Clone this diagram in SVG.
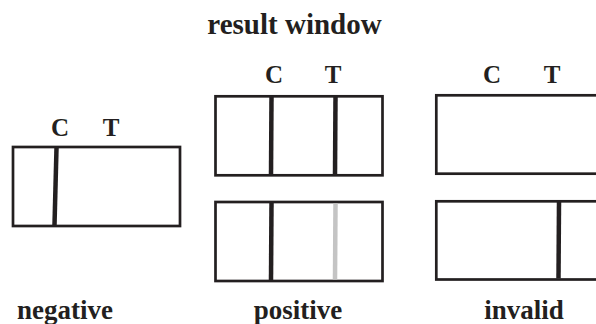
<svg xmlns="http://www.w3.org/2000/svg" width="596" height="324" viewBox="0 0 596 324">
<style>
text{font-family:"Liberation Serif","Times New Roman",serif;font-weight:bold;fill:#231f20}
.title{font-size:29px}
.lbl{font-size:27px}
.ct{font-size:25px}
.box{fill:#fff;stroke:#231f20;stroke-width:2.7}
.band{stroke:#231f20;stroke-width:4.5}
.faint{stroke:#c4c4c4;stroke-width:4.5}
</style>
<rect width="596" height="324" fill="#fff"/>
<text class="title" x="294.5" y="34" text-anchor="middle">result window</text>
<g id="negative">
<text class="ct" x="60" y="136" text-anchor="middle">C</text>
<text class="ct" x="111" y="136" text-anchor="middle">T</text>
<rect class="box" x="13" y="147" width="167" height="79"/>
<line class="band" x1="56.5" y1="148" x2="54.5" y2="225"/>
<text class="lbl" x="65" y="319" text-anchor="middle">negative</text>
</g>
<g id="positive">
<text class="ct" x="274" y="83" text-anchor="middle">C</text>
<text class="ct" x="333" y="83" text-anchor="middle">T</text>
<rect class="box" x="215.5" y="96.3" width="167" height="79"/>
<line class="band" x1="271.5" y1="97" x2="271" y2="175"/>
<line class="band" x1="335.5" y1="97" x2="335" y2="175"/>
<rect class="box" x="215.5" y="202" width="167" height="79"/>
<line class="band" x1="271.5" y1="203" x2="271" y2="280"/>
<line class="faint" x1="335.5" y1="203.4" x2="335" y2="279.6"/>
<text class="lbl" x="298" y="319" text-anchor="middle">positive</text>
</g>
<g id="invalid">
<text class="ct" x="492" y="83" text-anchor="middle">C</text>
<text class="ct" x="552" y="83" text-anchor="middle">T</text>
<rect class="box" x="436.3" y="95.3" width="167" height="78.4"/>
<rect class="box" x="436.3" y="201.3" width="167" height="78.2"/>
<line class="band" x1="559" y1="202" x2="558.5" y2="278.5"/>
<text class="lbl" x="524" y="319" text-anchor="middle">invalid</text>
</g>
<g id="connectors"/>
</svg>
